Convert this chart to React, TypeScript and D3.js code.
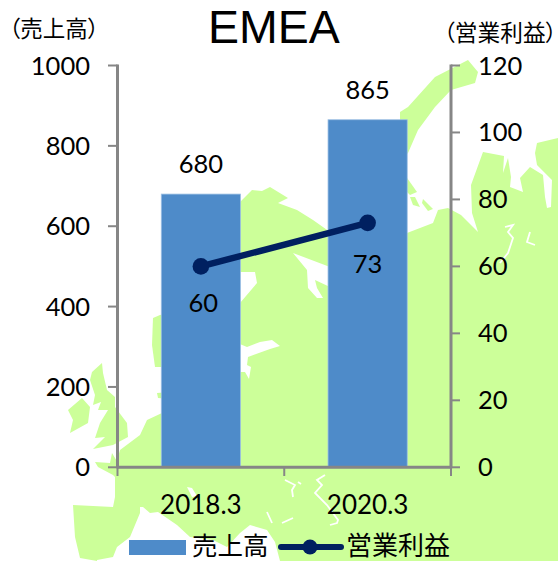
import React from "react";
import * as d3 from "d3";

const categories = ["2018.3", "2020.3"];
const salesValues = [680, 865];
const profitValues = [60, 73];
const salesTicks = [0, 200, 400, 600, 800, 1000];
const profitTicks = [0, 20, 40, 60, 80, 100, 120];

type P = [number, number];
const mapLand: P[][] = [
  [[80,558],[75,537],[73,505],[113,507],[115,497],[115,477],[113,475],[98,467],[95,462],[110,463],[112,453],[118,463],[118,457],[120,450],[140,435],[147,420],[162,413],[170,200],[240,202],[252,190],[262,191],[270,187],[288,198],[278,203],[297,210],[313,220],[330,232],[400,240],[407,233],[433,223],[438,210],[448,208],[461,215],[478,232],[472,213],[471,185],[483,152],[504,156],[503,173],[508,158],[511,177],[510,187],[523,192],[520,178],[530,167],[543,175],[545,197],[547,208],[551,207],[552,180],[537,165],[535,153],[537,143],[558,138],[558,561],[97,561]],
  [[170,313],[160,315],[153,318],[152,345],[155,367],[170,367]],
  [[170,392],[157,393],[158,398],[170,399]],
  [[102,363],[92,372],[90,380],[95,395],[93,405],[101,402],[98,410],[108,410],[100,423],[95,438],[105,437],[93,449],[103,447],[113,445],[128,437],[127,423],[115,407],[115,397],[107,390],[103,373]],
  [[82,398],[90,407],[88,423],[70,433],[73,420],[68,410]],
  [[400,160],[408,153],[418,130],[435,107],[451,90],[475,83],[478,72],[468,60],[435,77],[408,107],[400,112]],
  [[405,175],[417,192],[410,195],[405,190]],
  [[410,197],[415,197],[420,207],[413,205]],
  [[423,199],[433,209],[428,211],[422,203]],
];
const mapWater: P[][] = [
  [[235,272],[255,272],[257,283],[240,303],[235,310]],
  [[293,253],[330,267],[330,287],[315,280],[317,288],[323,298],[317,298],[308,288],[307,270]],
  [[235,342],[247,347],[260,342],[272,340],[280,346],[270,349],[248,357],[247,365],[251,367],[249,379],[245,372],[235,372]],
  [[140,507],[143,507],[150,513],[158,512],[177,525],[190,537],[213,540],[227,547],[240,533],[250,525],[267,530],[275,542],[280,561],[97,561],[97,560],[113,557],[117,547],[130,537],[140,513]],
  [[187,487],[192,488],[197,496],[192,497]],
];
const mapRivers: P[][] = [
  [[505,227],[513,225],[508,232],[513,238],[508,253],[500,263]],
  [[530,232],[527,242],[535,245]],
  [[325,475],[317,480],[322,485],[315,493],[327,505],[338,520],[337,523],[330,525]],
  [[285,480],[295,485],[292,490],[293,497]],
  [[298,482],[301,484]],
  [[267,512],[272,523]],
  [[282,523],[293,518]],
];

const left = 117.5, right = 451, top = 65.5, bottom = 467.3;
const tickFont = "Lato, 'Noto Sans', sans-serif";
const cjk = "'Noto Sans CJK JP', sans-serif";

export default function App() {
  const x = d3.scaleBand<string>().domain(categories).range([left, right]).paddingInner(0.525).paddingOuter(0.2625);
  const yL = d3.scaleLinear().domain([0, 1000]).range([bottom, top]);
  const yR = d3.scaleLinear().domain([0, 120]).range([bottom, top]);
  const cx = (c: string) => (x(c) as number) + x.bandwidth() / 2;
  const closed = d3.line<P>().curve(d3.curveLinearClosed);
  const open = d3.line<P>();
  const profitPts = categories.map((c, i) => [cx(c), yR(profitValues[i])] as P);
  const axis = "#868686";
  const blue = "#4E8BC9";
  const navy = "#002060";
  const xTicks = [left, (left + right) / 2, right];
  const palt: React.CSSProperties = { fontFeatureSettings: "'palt'" };

  return (
    <svg width={558} height={561} style={{ position: "absolute", left: 0, top: 0, display: "block" }}>
      <rect width={558} height={561} fill="#fff" />
      {mapLand.map((p, i) => <path key={i} d={closed(p) as string} fill="#CCFF99" />)}
      {mapWater.map((p, i) => <path key={i} d={closed(p) as string} fill="#fff" />)}
      {mapRivers.map((p, i) => <path key={i} d={open(p) as string} fill="none" stroke="#fff" strokeWidth={1.8} />)}

      {categories.map((c, i) => (
        <rect key={c} x={x(c)} y={yL(salesValues[i])} width={x.bandwidth()} height={bottom - yL(salesValues[i])}
          fill={blue} stroke="#9DC0E4" strokeWidth={0.8} />
      ))}

      {salesTicks.map(t => <line key={t} x1={108} x2={left} y1={yL(t)} y2={yL(t)} stroke={axis} strokeWidth={2} />)}
      {profitTicks.map(t => <line key={t} x1={right} x2={460} y1={yR(t)} y2={yR(t)} stroke={axis} strokeWidth={2} />)}
      {xTicks.map(t => <line key={t} x1={t} x2={t} y1={bottom} y2={476} stroke={axis} strokeWidth={2} />)}
      <line x1={left} x2={left} y1={top - 1} y2={bottom + 1} stroke={axis} strokeWidth={3} />
      <line x1={right} x2={right} y1={top - 1} y2={bottom + 1} stroke={axis} strokeWidth={3} />
      <line x1={left} x2={right} y1={bottom} y2={bottom} stroke={axis} strokeWidth={3} />

      <path d={open(profitPts) as string} fill="none" stroke={navy} strokeWidth={6.5} />
      {profitPts.map((p, i) => <circle key={i} cx={p[0]} cy={p[1]} r={8.3} fill={navy} />)}

      <g fontFamily={tickFont} fontSize={25.5} fill="#000">
        {salesTicks.map(t => <text key={t} x={90} y={yL(t) + 9} textAnchor="end">{t}</text>)}
        {profitTicks.map(t => <text key={t} x={478} y={yR(t) + 9}>{t}</text>)}
        {categories.map(c => <text key={c} x={cx(c)} y={514} textAnchor="middle" fontSize={26}>{c}</text>)}
        {salesValues.map((v, i) => <text key={v} x={cx(categories[i])} y={yL(v) - 21} textAnchor="middle">{v}</text>)}
        {profitValues.map((v, i) => (
          <text key={v} x={cx(categories[i]) + (i === 0 ? 2.5 : 0)} y={yR(v) + (i === 0 ? 46 : 50)} textAnchor="middle">{v}</text>
        ))}
      </g>

      <text x={274} y={43} textAnchor="middle" fontFamily="'Liberation Sans', sans-serif" fontSize={46.5} fill="#000">EMEA</text>
      <text x={9} y={37} fontFamily={cjk} fontSize={22.5} fill="#000">
        <tspan style={palt}>（</tspan>売上高<tspan style={palt}>）</tspan>
      </text>
      <text x={443.5} y={41} fontFamily={cjk} fontSize={22.7} fill="#000">
        <tspan style={palt}>（</tspan>営業利益<tspan style={palt}>）</tspan>
      </text>

      <rect x={129} y={540} width={57} height={15} fill={blue} />
      <text x={192} y={555} fontFamily={cjk} fontSize={25.5} fill="#000">売上高</text>
      <line x1={281} x2={341} y1={547} y2={547} stroke={navy} strokeWidth={6} strokeLinecap="round" />
      <circle cx={310} cy={547} r={7.5} fill={navy} />
      <text x={346} y={555} fontFamily={cjk} fontSize={26} fill="#000">営業利益</text>
    </svg>
  );
}
